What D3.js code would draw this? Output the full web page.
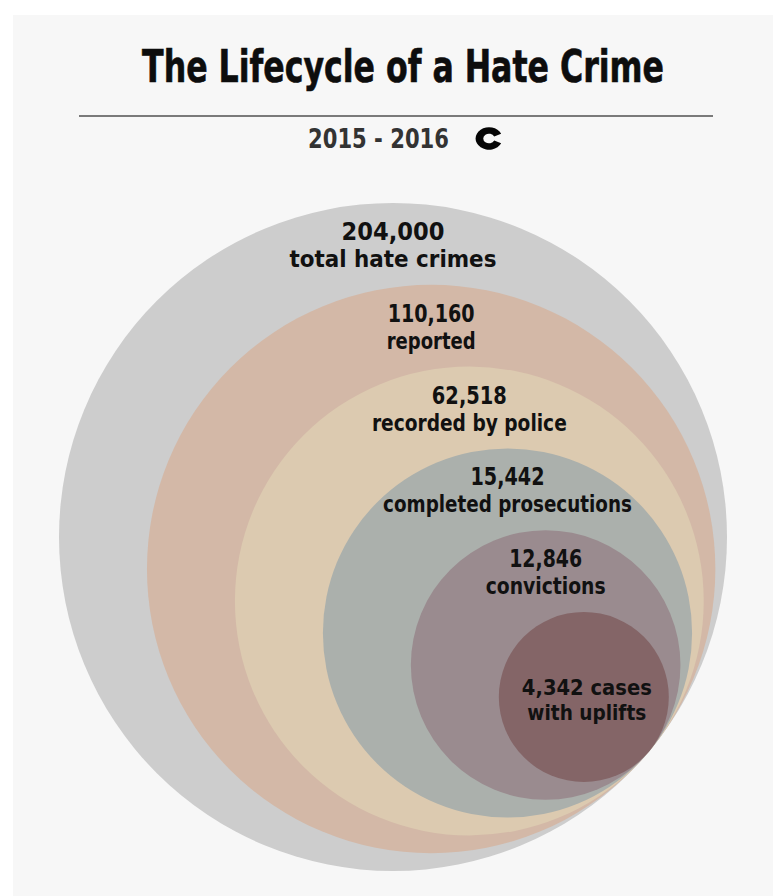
<!DOCTYPE html>
<html>
<head>
<meta charset="utf-8">
<script src="https://cdn.jsdelivr.net/npm/d3@7"></script>
<style>
  html, body { margin: 0; padding: 0; background: #ffffff; }
  svg { display: block; }
  text { font-family: "DejaVu Sans Condensed", "DejaVu Sans", sans-serif; font-weight: bold; }
</style>
</head>
<body>
<svg id="chart" width="773" height="896"></svg>
<script>
// Stages of the hate-crime process, from widest to narrowest
const stages = ["total hate crimes", "reported", "recorded by police",
                "completed prosecutions", "convictions", "cases with uplifts"];
const counts = [204000, 110160, 62518, 15442, 12846, 4342];
const stageColors = ["#cdcdcd", "#d3b8a7", "#dccab0", "#abb0ac", "#9a8b8f", "#846567"];

const title = "The Lifecycle of a Hate Crime";
const period = "2015 - 2016";

// Horizontal widths each text line is fitted to (condensed display face)
const numberWidths = [103, 87, 75, 74, 73];
const nameWidths = [207, 89, 195, 249, 120];
const innerWidths = [130, 119];

const W = 773, H = 896;
const svg = d3.select("#chart");
const fmt = d3.format(",");

// Centered text squeezed horizontally to a given width
function fitText(parent, str, x, y, size, width, fill) {
  const t = parent.append("text").attr("text-anchor", "middle")
    .attr("font-size", size).attr("fill", fill).text(str);
  const natural = t.node().getComputedTextLength();
  const k = natural > 0 ? width / natural : 1;
  t.attr("transform", `translate(${x},${y}) scale(${k},1)`);
  return t;
}

// Panel
svg.append("rect").attr("x", 13).attr("y", 15).attr("width", W - 13).attr("height", H - 15)
  .attr("fill", "#f7f7f7");

// Heading
fitText(svg, title, 403, 82, 44, 522, "#0d0d0d")
  .attr("stroke", "#0d0d0d").attr("stroke-width", 0.6);

svg.append("line").attr("x1", 79).attr("x2", 713).attr("y1", 116).attr("y2", 116)
  .attr("stroke", "#7a7a7a").attr("stroke-width", 2);

fitText(svg, period, 378.5, 148, 26, 141, "#333333");

// Publisher mark: a heavy "C" with a narrow opening on the right
const mark = d3.arc().innerRadius(4.8).outerRadius(11.2)
  .startAngle(Math.PI * 0.64).endAngle(Math.PI * 2.36);
svg.append("path").attr("d", mark()).attr("transform", "translate(489,138.5) scale(1.2,1)")
  .attr("fill", "#050505");

// Nested circles: all tangent at one point on the lower right; radius steps by stage rank
const outerCenter = [393, 537];
const tangentAngle = Math.atan2(0.643, 0.767);
const rScale = d3.scaleLinear().domain([0, stages.length - 1]).range([334, 85]);

const nodes = stages.map((s, i) => {
  const r = rScale(i);
  const R = rScale(0);
  const tx = outerCenter[0] + R * Math.cos(tangentAngle);
  const ty = outerCenter[1] + R * Math.sin(tangentAngle);
  return {
    stage: s, count: counts[i], color: stageColors[i], r,
    cx: tx - r * Math.cos(tangentAngle),
    cy: ty - r * Math.sin(tangentAngle), i
  };
});

const g = svg.append("g");
g.selectAll("circle").data(nodes).join("circle")
  .attr("cx", d => d.cx).attr("cy", d => d.cy).attr("r", d => d.r)
  .attr("fill", d => d.color);

// Labels near the top of each ring; the innermost one sits at its centre
const last = nodes.length - 1;
nodes.forEach(d => {
  if (d.i < last) {
    const top = d.cy - d.r;
    fitText(g, fmt(d.count), d.cx, top + 37, 24, numberWidths[d.i], "#111111");
    fitText(g, d.stage, d.cx, top + 64, 23, nameWidths[d.i], "#111111");
  } else {
    const words = d.stage.split(" ");
    fitText(g, fmt(d.count) + " " + words[0], d.cx + 3, d.cy - 2, 22, innerWidths[0], "#111111");
    fitText(g, words.slice(1).join(" "), d.cx + 3, d.cy + 23, 22, innerWidths[1], "#111111");
  }
});
</script>
</body>
</html>
